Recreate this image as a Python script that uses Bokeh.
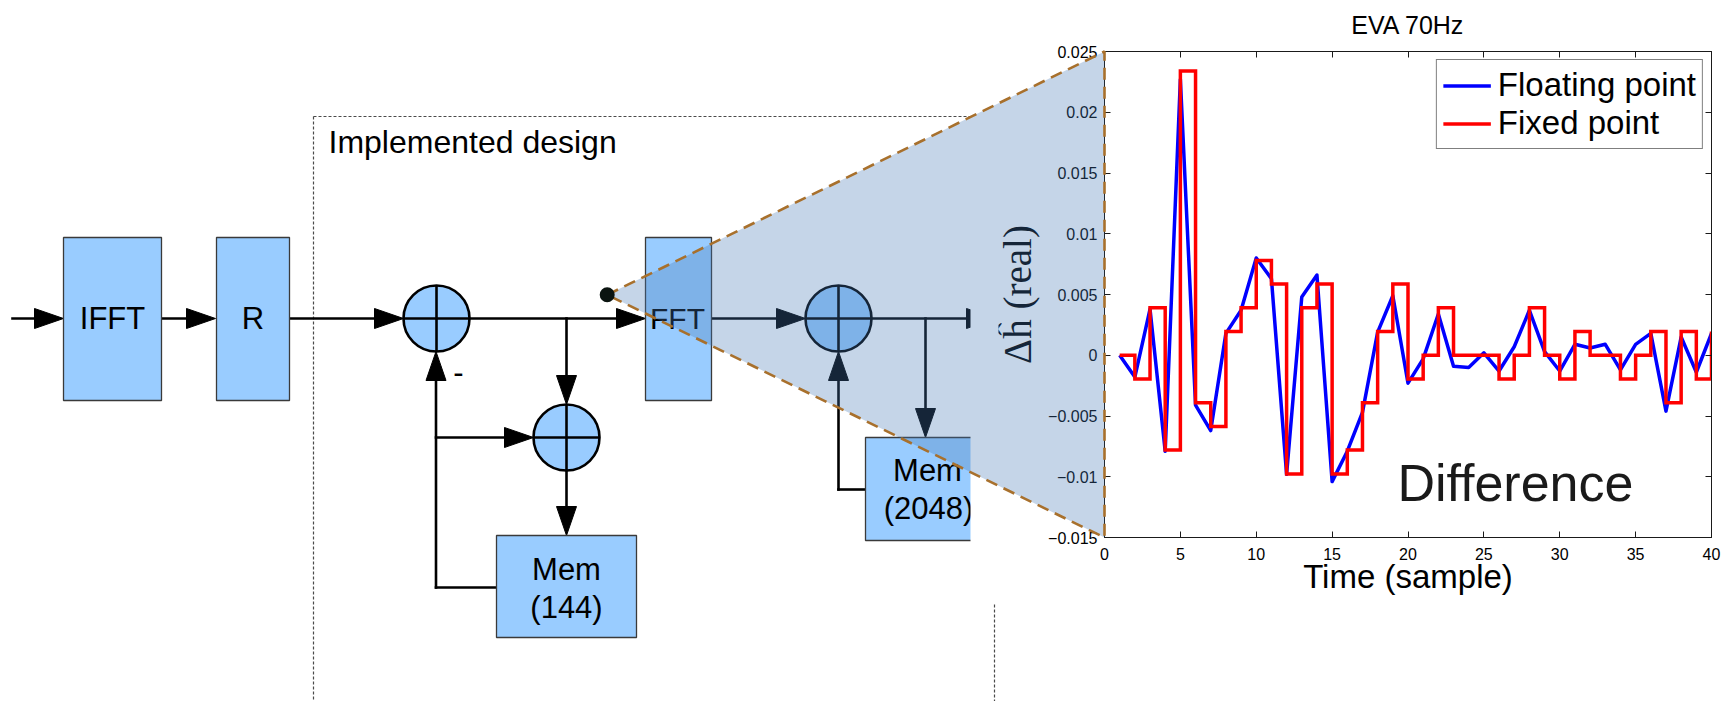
import numpy as np
from bokeh.plotting import figure
from bokeh.models import Range1d, FixedTicker, LinearAxis, Label
from bokeh.core.properties import value
from bokeh.embed import file_html
from bokeh.resources import INLINE

# ---------------------------------------------------------------- data
samples = list(range(1, 41))
floating_point = [0.0, -0.0018, 0.0038, -0.0079, 0.0227, -0.0041, -0.0062, 0.0018, 0.0037, 0.0080,
                  0.0063, -0.0098, 0.0048, 0.0066, -0.0104, -0.0079, -0.0047, 0.0019, 0.0049, -0.0023,
                  -0.0003, 0.0034, -0.0009, -0.0010, 0.0002, -0.0013, 0.0007, 0.0037, 0.0003, -0.0013,
                  0.0009, 0.0006, 0.0009, -0.0012, 0.0009, 0.0018, -0.0046, 0.0015, -0.0014, 0.0018]
fixed_point = [0.0, -0.00195, 0.0039, -0.0078, 0.0234, -0.0039, -0.00586, 0.00195, 0.0039, 0.0078,
               0.00586, -0.00977, 0.0039, 0.00586, -0.00977, -0.0078, -0.0039, 0.00195, 0.00586, -0.00195,
               0.0, 0.0039, 0.0, 0.0, 0.0, -0.00195, 0.0, 0.0039, 0.0, -0.00195,
               0.00195, 0.0, 0.0, -0.00195, 0.0, 0.00195, -0.0039, 0.00195, -0.00195, 0.00195]

x_ticks = [0, 5, 10, 15, 20, 25, 30, 35, 40]
x_tick_labels = ["0", "5", "10", "15", "20", "25", "30", "35", "40"]
y_ticks = [-0.015, -0.01, -0.005, 0, 0.005, 0.01, 0.015, 0.02, 0.025]
y_tick_labels = ["\u22120.015", "\u22120.01", "\u22120.005", "0", "0.005", "0.01", "0.015", "0.02", "0.025"]

# ---------------------------------------------------------------- page geometry
W, H = 1726, 701
FL, FR, FT, FB = 1104, 1711, 51, 537      # plot frame edges in page pixels
PINNED = {"position": "absolute", "left": "0px", "top": "0px"}

# ---------------------------------------------------------------- chart
p = figure(width=W, height=H, x_range=Range1d(0, 40), y_range=Range1d(-0.015, 0.025),
           output_backend="svg", toolbar_location=None,
           min_border_left=FL, min_border_right=W - FR,
           min_border_top=FT, min_border_bottom=H - FB)
p.styles = dict(PINNED)
p.background_fill_color = "white"
p.border_fill_color = "white"
p.outline_line_color = "#1a1a1a"
p.xgrid.visible = False
p.ygrid.visible = False

xax = p.below[0]
yax = p.left[0]


def style_axis(ax, ticks, labels):
    ax.ticker = FixedTicker(ticks=ticks)
    ax.major_label_overrides = dict(zip(ticks, labels))
    ax.major_tick_in = 6
    ax.major_tick_out = 0
    ax.minor_tick_line_color = None
    ax.axis_line_color = "#1a1a1a"
    ax.major_tick_line_color = "#1a1a1a"
    ax.major_label_text_font = "Liberation Sans"
    ax.major_label_text_font_size = "16px"
    ax.major_label_text_color = "black"
    ax.major_label_standoff = 7


style_axis(xax, x_ticks, x_tick_labels)
style_axis(yax, y_ticks, y_tick_labels)
xax.major_label_standoff = 10

xax.axis_label = "Time (sample)"
xax.axis_label_text_font = "Liberation Sans"
xax.axis_label_text_font_size = "33px"
xax.axis_label_text_font_style = "normal"
xax.axis_label_text_color = "black"
xax.axis_label_standoff = -5

yax.axis_label = "\u0394\u0125 (real)"
yax.axis_label_text_font = "Liberation Serif"
yax.axis_label_text_font_size = "39px"
yax.axis_label_text_font_style = "normal"
yax.axis_label_text_color = "black"
yax.axis_label_standoff = 6

# box ticks on the top and right sides, without labels
for side, ticks in (("above", x_ticks), ("right", y_ticks)):
    ax = LinearAxis()
    style_axis(ax, ticks, [""] * len(ticks))
    ax.major_label_text_color = None
    ax.major_label_standoff = 0
    p.add_layout(ax, side)

p.line(samples, floating_point, line_color="#0000FF", line_width=3.5, line_join="round",
       legend_label="Floating point")
p.step(samples, fixed_point, mode="after", line_color="#FF0000", line_width=3.5, line_join="miter",
       legend_label="Fixed point")

leg = p.legend[0]
leg.location = "top_right"
leg.margin = 8
leg.padding = 6
leg.spacing = 0
leg.label_text_font = "Liberation Sans"
leg.label_text_font_size = "33px"
leg.label_text_color = "black"
leg.glyph_width = 48
leg.glyph_height = 37
leg.label_height = 37
leg.label_standoff = 7
leg.border_line_color = "black"
leg.border_line_width = 1.3
leg.background_fill_color = "white"
leg.background_fill_alpha = 1.0

p.add_layout(Label(x=19.3, y=-0.0105, text="Difference", text_font="Liberation Sans",
                   text_font_size="52px", text_color="#1a1a1a", text_align="left",
                   text_baseline="middle"))

# ---------------------------------------------------------------- block diagram (transparent layer on top)
d = figure(width=W, height=H, x_range=Range1d(0, W), y_range=Range1d(H, 0),
           output_backend="svg", toolbar_location=None,
           x_axis_location=None, y_axis_location=None, min_border=0)
d.styles = dict(PINNED)
d.outline_line_color = None
d.background_fill_color = None
d.border_fill_color = None
d.xgrid.visible = False
d.ygrid.visible = False

BOX_FILL = "#99CCFF"
INK = "black"
LW = 2.6
MAIN_Y = 318
HEAD_LEN, HEAD_HALF = 29, 10

wires = dict(x0=[], y0=[], x1=[], y1=[])
heads = dict(xs=[], ys=[])


def wire(x0, y0, x1, y1):
    wires["x0"].append(x0)
    wires["y0"].append(y0)
    wires["x1"].append(x1)
    wires["y1"].append(y1)


def arrow(x0, y0, x1, y1):
    if y0 == y1:
        s = 1 if x1 > x0 else -1
        wire(x0, y0, x1 - s * HEAD_LEN, y1)
        heads["xs"].append([x1, x1 - s * HEAD_LEN, x1 - s * HEAD_LEN])
        heads["ys"].append([y1, y1 - HEAD_HALF, y1 + HEAD_HALF])
    else:
        s = 1 if y1 > y0 else -1
        wire(x0, y0, x1, y1 - s * HEAD_LEN)
        heads["xs"].append([x1, x1 - HEAD_HALF, x1 + HEAD_HALF])
        heads["ys"].append([y1, y1 - s * HEAD_LEN, y1 - s * HEAD_LEN])


# boxes: left, right, top, bottom
blocks = dict(left=[63, 216, 496, 645, 865], right=[161, 289, 636, 711, 985],
              top=[237, 237, 535, 237, 437], bottom=[400, 400, 637, 400, 540])
# adders: centre points
adders = dict(x=[436, 566, 838], y=[MAIN_Y, 437, MAIN_Y])
ADDER_R = 33

# input chain and first adder
arrow(12, MAIN_Y, 63, MAIN_Y)
arrow(161, MAIN_Y, 215, MAIN_Y)
arrow(289, MAIN_Y, 403, MAIN_Y)
arrow(469, MAIN_Y, 645, MAIN_Y)
# accumulator with 144-word memory
arrow(566, MAIN_Y, 566, 404)
arrow(566, 470, 566, 535)
wire(496, 587, 435.5, 587)
arrow(435.5, 587, 435.5, 351)
arrow(435.5, 437, 533, 437)
# FFT and 2048-word accumulator
arrow(711, MAIN_Y, 805, MAIN_Y)
arrow(871, MAIN_Y, 995, MAIN_Y)
arrow(925, MAIN_Y, 925, 437)
wire(865, 489, 838, 489)
arrow(838, 489, 838, 351)

# dotted outline of the implemented part
d.segment(x0=[313, 313, 994], y0=[116, 116, 604], x1=[970, 313, 994], y1=[116, H, H],
          line_color="#4a4a4a", line_width=1.2, line_dash="3 2")

d.segment(x0=wires["x0"], y0=wires["y0"], x1=wires["x1"], y1=wires["y1"],
          line_color=INK, line_width=LW, line_cap="square")
d.patches(heads["xs"], heads["ys"], fill_color=INK, line_color=INK, line_width=1)
d.quad(left=blocks["left"], right=blocks["right"], top=blocks["top"], bottom=blocks["bottom"],
       fill_color=BOX_FILL, line_color="#3a3a3a", line_width=1.3)
d.circle(adders["x"], adders["y"], radius=ADDER_R, fill_color=BOX_FILL, line_color=INK, line_width=LW)
ax_ = np.array(adders["x"], dtype=float)
ay_ = np.array(adders["y"], dtype=float)
d.segment(x0=list(ax_ - ADDER_R), y0=list(ay_), x1=list(ax_ + ADDER_R), y1=list(ay_),
          line_color=INK, line_width=LW)
d.segment(x0=list(ax_), y0=list(ay_ - ADDER_R), x1=list(ax_), y1=list(ay_ + ADDER_R),
          line_color=INK, line_width=LW)

FONT = value("Liberation Sans")
d.text(x=[112, 252.5, 566, 566, 927, 928, 458], y=[MAIN_Y, MAIN_Y, 569, 607, 470, 508, 371],
       text=["IFFT", "R", "Mem", "(144)", "Mem", "(2048)", "-"],
       text_font=FONT, text_font_size="31px", text_color="black",
       text_align="center", text_baseline="middle")
d.text(x=[677], y=[MAIN_Y], text=["FFT"], text_font=FONT, text_font_size="30px",
       text_color="black", text_align="center", text_baseline="middle")
d.text(x=[328], y=[141.5], text=["Implemented design"], text_font=FONT, text_font_size="32px",
       text_color="black", text_align="left", text_baseline="middle")

# the plot panel hides whatever runs past its left edge
d.quad(left=[970], right=[998], top=[300], bottom=[545], fill_color="white", line_color=None)

# chart title
d.text(x=[(FL + FR) / 2], y=[24], text=["EVA 70Hz"], text_font=FONT, text_font_size="25px",
       text_color="black", text_align="center", text_baseline="middle")

# zoom wedge from the probe point to the plot's left axis
APEX_X, APEX_Y = 606.7, 294.3
d.patch([APEX_X, FL, FL], [APEX_Y, FT, FB], fill_color="#4376B5", fill_alpha=0.31,
        line_color="#A8702C", line_width=2.6, line_dash="12 7")
d.circle([APEX_X], [APEX_Y], radius=7.5, fill_color="#0b1410", line_color=None)

open("out.html", "w").write(file_html([p, d], INLINE))
